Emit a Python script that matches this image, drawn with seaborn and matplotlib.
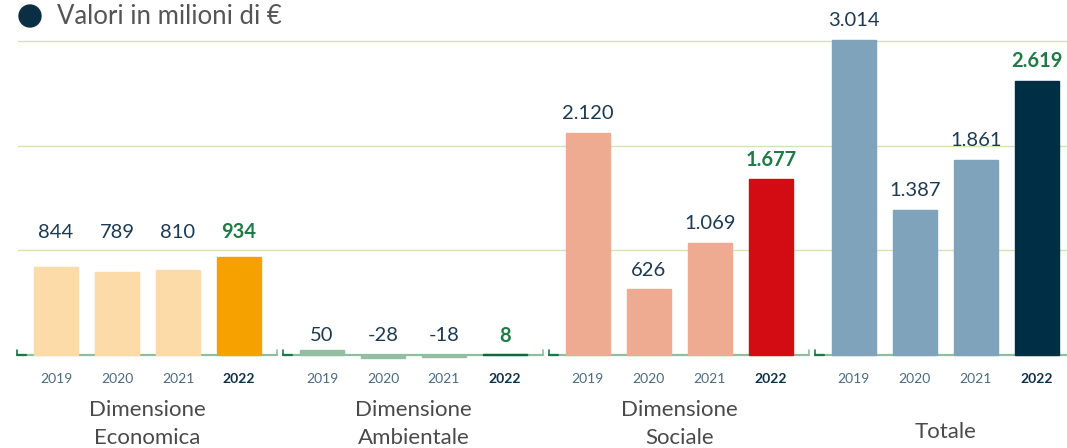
import pandas as pd
import matplotlib.pyplot as plt
from matplotlib.patches import Ellipse
import seaborn as sns

# Data
groups = ["Dimensione\nEconomica", "Dimensione\nAmbientale", "Dimensione\nSociale", "Totale"]
years = ["2019", "2020", "2021", "2022"]
economica = [844, 789, 810, 934]
ambientale = [50, -28, -18, 8]
sociale = [2120, 626, 1069, 1677]
totale = [3014, 1387, 1861, 2619]

light_colors = ["#FDDBA9", "#93BEA2", "#EEAB92", "#7FA3BA"]
dark_colors = ["#F5A200", "#0A6B3A", "#D30C14", "#002E45"]
label_offsets = [18, 10, 14, 14]  # points above the bar (or group max)

W, H = 1067, 448
GROUP_STEP = 4.36  # 4 bars + gap between groups

sns.set_theme(style="white")
plt.rcParams["font.family"] = ["Lato", "DejaVu Sans"]

rows = []
for gi, vals in enumerate([economica, ambientale, sociale, totale]):
    for j, v in enumerate(vals):
        key = f"{gi}-{years[j]}"
        color = dark_colors[gi] if j == 3 else light_colors[gi]
        rows.append({"pos": gi * GROUP_STEP + j, "val": v, "key": key,
                     "color": color, "group": gi, "year": years[j]})
df = pd.DataFrame(rows)
palette = dict(zip(df["key"], df["color"]))

fig = plt.figure(figsize=(W / 100, H / 100), dpi=100)

# axes geometry in pixels (baseline at 355px, 3000 at 41px)
px_per_unit = 314 / 3000
ylo, yhi = -70, 3060
ax_bottom_px = 355 + (-ylo) * px_per_unit
ax_top_px = 355 - yhi * px_per_unit
ax_left_px = 18
ax = fig.add_axes([ax_left_px / W, 1 - ax_bottom_px / H, 1 - ax_left_px / W,
                   (ax_bottom_px - ax_top_px) / H])


def py(ypx):
    # figure pixel y -> axes fraction
    return (ax_bottom_px - ypx) / (ax_bottom_px - ax_top_px)


sns.barplot(data=df, x="pos", y="val", hue="key", palette=palette, native_scale=True,
            dodge=False, width=0.72, legend=False, saturation=1, ax=ax, zorder=3)
# thin edge in the same colour so the tiny bars stay visible
for p in ax.patches:
    p.set_edgecolor(p.get_facecolor())
    p.set_linewidth(1.0)

ax.set_ylim(ylo, yhi)
ax.set_xlim((ax_left_px - 56) / 61, (W - 56) / 61)
for s in ax.spines.values():
    s.set_visible(False)

# gridlines
for g in [1000, 2000, 3000]:
    ax.axhline(g, color="#D3E4B4", lw=1, zorder=0)

# baseline segments per group
for gi in range(4):
    x0 = gi * GROUP_STEP - 0.64
    x1 = gi * GROUP_STEP + 3.62
    ax.plot([x0, x1], [-3, -3], color="#8DBF9F", lw=1.6, clip_on=False, zorder=2)
    ax.plot([x0, x0 + 0.15], [-3, -3], color="#1B7A42", lw=1.6, clip_on=False, zorder=2)
    ax.plot([x0, x0], [-3, 45], color="#1B7A42", lw=1.2, clip_on=False, zorder=2)
    ax.plot([x1, x1], [-3, 45], color="#8DBF9F", lw=1.2, clip_on=False, zorder=2)

# value labels
for gi in range(4):
    sub = df[df["group"] == gi]
    gmax = sub["val"].max()
    for _, r in sub.iterrows():
        top = gmax if gi < 2 else max(r["val"], 0)
        txt = f"{int(r['val']):,}".replace(",", ".")
        is_last = r["year"] == years[-1]
        ax.annotate(txt, (r["pos"], top), xytext=(0, label_offsets[gi]),
                    textcoords="offset points", ha="center", va="center", fontsize=14.5,
                    color="#1E7B45" if is_last else "#1C3A52",
                    fontweight="bold" if is_last else "normal")

# year ticks
ax.set_xticks(df["pos"])
ax.set_xticklabels(df["year"])
ax.tick_params(axis="x", length=0, pad=8, labelsize=10)
ax.tick_params(axis="y", left=False, labelleft=False)
for lbl, yr in zip(ax.get_xticklabels(), df["year"]):
    if yr == years[-1]:
        lbl.set_fontweight("bold")
        lbl.set_color("#0D3048")
    else:
        lbl.set_color("#4A6A80")
ax.set_xlabel("")
ax.set_ylabel("")

# group labels
for gi, name in enumerate(groups):
    ypx = 424 if "\n" in name else 432
    ax.text(gi * GROUP_STEP + 1.5, py(ypx), name, transform=ax.get_xaxis_transform(),
            ha="center", va="center", fontsize=16, color="#4A4A4A",
            linespacing=1.5, clip_on=False)

# title with dot
fig.patches.append(Ellipse((30 / W, 1 - 16 / H), 22 / W, 22 / H, transform=fig.transFigure,
                           color="#0B2E45", figure=fig))
fig.text(57 / W, 1 - 16 / H, "Valori in milioni di €", ha="left", va="center",
         fontsize=18.5, color="#555555")

fig.savefig("out.png", dpi=100)
